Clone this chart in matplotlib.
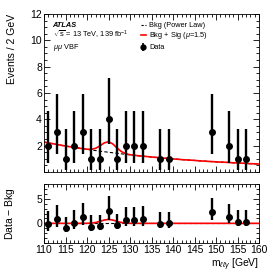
import numpy as np
from matplotlib import pyplot as plt
from matplotlib.ticker import MultipleLocator

plt.rcParams['font.family'] = ['Liberation Sans', 'DejaVu Sans']
plt.rcParams['mathtext.fontset'] = 'custom'
plt.rcParams['mathtext.rm'] = 'Liberation Sans'
plt.rcParams['mathtext.it'] = 'Liberation Sans:italic'

# Data (events per 2 GeV bin)
bin_center = np.array([111, 113, 115, 117, 119, 121, 123, 125, 127, 129, 131, 133,
                       137, 139, 149, 153, 155, 157])
counts = np.array([2, 3, 1, 2, 3, 1, 1, 4, 1, 2, 2, 2, 1, 1, 3, 2, 1, 1])

# Poisson (Garwood) errors, down / up, per observed count
pois_lo = {1: 0.83, 2: 1.29, 3: 1.63, 4: 1.91}
pois_hi = {1: 2.30, 2: 2.64, 3: 2.92, 4: 3.16}

# Background fit (power law), read every 1 GeV from 110 to 160
curve_mass = np.arange(110, 161)
bkg = np.array([2.27, 2.21, 2.15, 2.09, 2.03, 1.97, 1.92, 1.87, 1.82, 1.77,
                1.72, 1.67, 1.63, 1.58, 1.54, 1.50, 1.46, 1.42, 1.38, 1.34,
                1.30, 1.27, 1.23, 1.20, 1.17, 1.14, 1.11, 1.08, 1.05, 1.02,
                0.99, 0.97, 0.94, 0.92, 0.90, 0.88, 0.85, 0.83, 0.81, 0.79,
                0.77, 0.75, 0.74, 0.72, 0.70, 0.68, 0.67, 0.65, 0.63, 0.62,
                0.60])

# Signal (mu = 1.5) on top of the background
sig_mass = np.arange(120, 131)
sig_vals = np.array([0.01, 0.05, 0.17, 0.40, 0.67, 0.80, 0.67, 0.40, 0.17, 0.05, 0.01])

sig = np.zeros(len(curve_mass))
sig[sig_mass - 110] = sig_vals
bkg_sig = bkg + sig

err_lo = np.array([pois_lo[n] for n in counts])
err_hi = np.array([pois_hi[n] for n in counts])
resid = counts - bkg[bin_center - 110]

fig = plt.figure(figsize=(2.74, 2.74), dpi=100)
ax = fig.add_axes([0.1606, 0.3723, 0.7847, 0.5766])
ax2 = fig.add_axes([0.1606, 0.1131, 0.7847, 0.2153])

fs = 7.5
lfs = 5.3

# Top panel
ax.plot(curve_mass, bkg, color='black', ls=(0, (3, 2)), lw=0.8)
ax.plot(curve_mass, bkg_sig, color='red', lw=1.2)
ax.errorbar(bin_center, counts, yerr=[err_lo, err_hi], fmt='o', color='black',
            ms=4, elinewidth=1.7, capsize=0)
ax.set_xlim(110, 160)
ax.set_ylim(0, 12)
ax.set_yticks([2, 4, 6, 8, 10, 12])
ax.yaxis.set_minor_locator(MultipleLocator(0.5))
ax.xaxis.set_major_locator(MultipleLocator(5))
ax.xaxis.set_minor_locator(MultipleLocator(1))
ax.tick_params(labelbottom=False)
ax.set_ylabel("Events / 2 GeV", fontsize=fs, loc='top')

ax.text(0.04, 0.93, "ATLAS", transform=ax.transAxes, fontsize=lfs,
        fontweight='bold', fontstyle='italic', va='center')
ax.text(0.04, 0.865, r"$\sqrt{\mathrm{s}}$ = 13 TeV, 139 fb$^{-1}$", transform=ax.transAxes,
        fontsize=lfs, va='center')
ax.text(0.04, 0.79, r"$\mu\mu$ VBF", transform=ax.transAxes, fontsize=lfs, va='center')

# Legend drawn by hand
lx0, lx1, ltx = 0.45, 0.475, 0.49
ax.plot([lx0, lx1], [0.93, 0.93], transform=ax.transAxes, color='black',
        ls=(0, (2, 1.5)), lw=0.8)
ax.text(ltx, 0.93, "Bkg (Power Law)", transform=ax.transAxes, fontsize=lfs, va='center')
ax.plot([lx0, lx1], [0.865, 0.865], transform=ax.transAxes, color='red', lw=1.2)
ax.text(ltx, 0.865, r"Bkg + Sig ($\mu$=1.5)", transform=ax.transAxes, fontsize=lfs, va='center')
ax.errorbar([(lx0 + lx1) / 2], [0.79], yerr=[0.025], transform=ax.transAxes, fmt='o',
            color='black', ms=3.5, elinewidth=1.2, capsize=0)
ax.text(ltx, 0.79, "Data", transform=ax.transAxes, fontsize=lfs, va='center')

# Bottom panel
ax2.plot(curve_mass, np.zeros(len(curve_mass)), color='black', ls=(0, (3, 2)), lw=0.8)
ax2.plot(curve_mass, sig, color='red', lw=1.2)
ax2.errorbar(bin_center, resid, yerr=[err_lo, err_hi], fmt='o', color='black',
             ms=4, elinewidth=1.7, capsize=0)
ax2.set_xlim(110, 160)
ax2.set_ylim(-4, 8)
ax2.set_yticks([0, 5])
ax2.yaxis.set_minor_locator(MultipleLocator(1))
ax2.xaxis.set_major_locator(MultipleLocator(5))
ax2.xaxis.set_minor_locator(MultipleLocator(1))
ax2.set_ylabel("Data $-$ Bkg", fontsize=fs)
ax2.set_xlabel(r"m$_{\ell\ell\gamma}$ [GeV]", fontsize=fs, loc='right', labelpad=1)

for a in (ax, ax2):
    a.tick_params(which='both', direction='in', top=True, right=True,
                  labelsize=fs, pad=1.5, width=0.6)
    a.tick_params(which='major', length=4)
    a.tick_params(which='minor', length=2)
    for s in a.spines.values():
        s.set_linewidth(0.6)

ax.yaxis.set_label_coords(-0.125, 1.0)
ax2.yaxis.set_label_coords(-0.125, 0.5)

fig.savefig("out.png", dpi=100)
